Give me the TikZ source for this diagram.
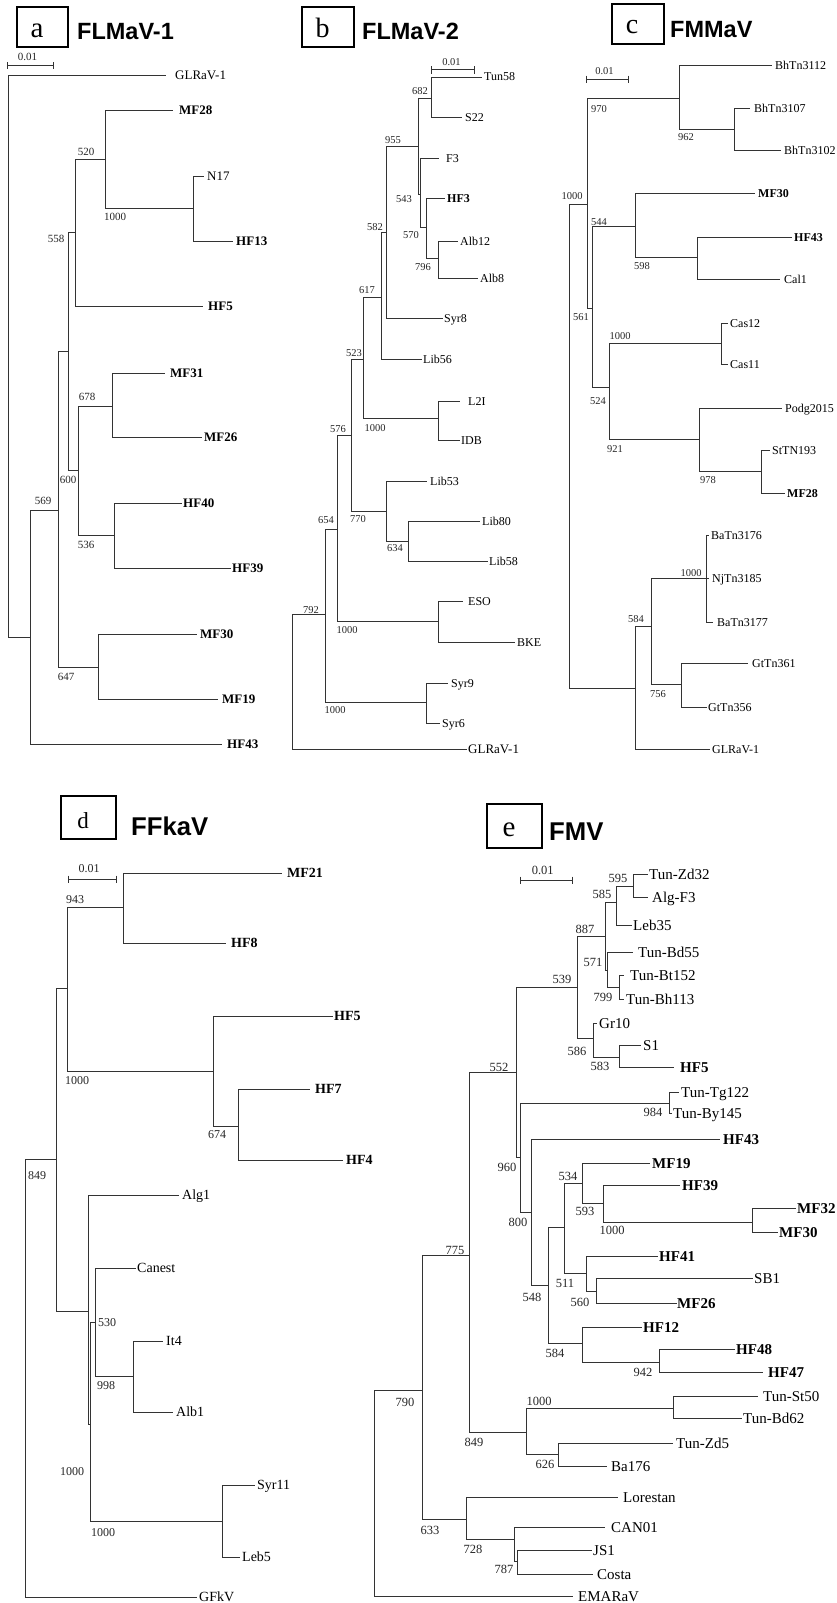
\documentclass[tikz,border=0pt]{standalone}
\usepackage{fontspec}
\setmainfont{Liberation Serif}
\newfontfamily\titlesans{Liberation Sans}
\newcommand\tbr[4]{\coordinate (#2) at (#3,#4); \draw[tree] (#1) |- (#2);}
\newcommand\tleaf[7]{\coordinate (#2) at (#3,#4); \draw[tree] (#1) |- (#2); \node[#5] (L#2) at (#6,#4) {#7};}
\newcommand\scbar[7]{\coordinate (#1l) at (#2,#4); \coordinate (#1r) at (#3,#4);
  \draw[tree] (#1l) -- (#1r);
  \draw[tree] ([yshift=3.5pt]#1l) -- ([yshift=-3.5pt]#1l);
  \draw[tree] ([yshift=3.5pt]#1r) -- ([yshift=-3.5pt]#1r);
  \node[#7] (#1t) at (#5,#6) {0.01};}
\newcommand\bsn[5]{\node[#1] (#2) at (#3,#4) {#5};}
\tikzset{
  tree/.style={line width=1pt, draw=black!80},
  tipst/.style={anchor=base west, inner sep=0pt, text=black},
  ta/.style={tipst, font=\fontsize{13}{15}\selectfont, yshift=-4.3pt},
  tab/.style={tipst, font=\fontsize{13}{15}\selectfont\bfseries, yshift=-4.3pt},
  tb/.style={tipst, font=\fontsize{12}{14}\selectfont, yshift=-4pt},
  tbb/.style={tipst, font=\fontsize{12}{14}\selectfont\bfseries, yshift=-4pt},
  tc/.style={tipst, font=\fontsize{12}{14}\selectfont, yshift=-4pt},
  tcb/.style={tipst, font=\fontsize{12}{14}\selectfont\bfseries, yshift=-4pt},
  td/.style={tipst, font=\fontsize{14}{16}\selectfont, yshift=-4.6pt},
  tdb/.style={tipst, font=\fontsize{14}{16}\selectfont\bfseries, yshift=-4.6pt},
  te/.style={tipst, font=\fontsize{15}{17}\selectfont, yshift=-5pt},
  teb/.style={tipst, font=\fontsize{15}{17}\selectfont\bfseries, yshift=-5pt},
  bsa/.style={inner sep=0pt, text=black!85, font=\fontsize{11}{13}\selectfont},
  bsb/.style={inner sep=0pt, text=black!85, font=\fontsize{10.5}{12}\selectfont},
  bsd/.style={inner sep=0pt, text=black!85, font=\fontsize{12}{14}\selectfont},
  bse/.style={inner sep=0pt, text=black!85, font=\fontsize{12.5}{14}\selectfont},
  pbox/.style={draw=black, line width=1.2pt, inner sep=0pt, minimum width=#1},
  pletter/.style={anchor=base, inner sep=0pt, font=\fontsize{#1}{#1}\selectfont},
  ptitle/.style={anchor=base west, inner sep=0pt, font=\titlesans\bfseries\fontsize{#1}{#1}\selectfont}
}
\begin{document}
\begin{tikzpicture}[x=1pt,y=-1pt]
\useasboundingbox (0,0) rectangle (836,1603);
\fill[white] (0,0) rectangle (836,1603);

% ---------- headers ----------
\node[pbox=51pt, minimum height=40pt] (boxa) at (42.5,27) {};
\node[pletter=29] (leta) at (37,37.3) {a};
\node[ptitle=23.5] (tita) at (77,40) {FLMaV-1};
\node[pbox=52pt, minimum height=40pt] (boxb) at (328,27) {};
\node[pletter=28] (letb) at (322.5,37.7) {b};
\node[ptitle=23.5] (titb) at (362,40) {FLMaV-2};
\node[pbox=52pt, minimum height=40pt] (boxc) at (638,24) {};
\node[pletter=28] (letc) at (632,33.3) {c};
\node[ptitle=23.5] (titc) at (670,37.3) {FMMaV};
\node[pbox=55pt, minimum height=43pt] (boxd) at (88.5,817.5) {};
\node[pletter=23] (letd) at (83,828.3) {d};
\node[ptitle=25.7] (titd) at (131,835.7) {FFkaV};
\node[pbox=55pt, minimum height=44pt] (boxe) at (514.5,826) {};
\node[pletter=29] (lete) at (509,836.7) {e};
\node[ptitle=25.7] (tite) at (549,840.7) {FMV};

% ---------- scale bars ----------
\scbar{sa}{7}{53}{66}{27.5}{57}{bsa}
\scbar{sb}{431}{474}{70}{451.5}{61.7}{bsb}
\scbar{sc}{586}{628}{79}{604.5}{71}{bsb}
\scbar{sd}{68}{116}{879}{89}{869}{bsd}
\scbar{se}{520}{572}{880}{542.7}{870}{bse}

% ---------- panel a ----------
\coordinate (a0) at (8,356);
\tleaf{a0}{aGLR}{166}{75}{ta}{175}{GLRaV-1}
\tbr{a0}{a569}{30}{637}
\tbr{a569}{a58}{58}{510}
\tbr{a58}{a68}{68}{351}
\tbr{a68}{a558}{75}{232}
\tbr{a558}{a520}{105}{159}
\tleaf{a520}{aMF28}{173}{110}{tab}{179}{MF28}
\tbr{a520}{a1000}{193}{208}
\tleaf{a1000}{aN17}{204}{176}{ta}{207}{N17}
\tleaf{a1000}{aHF13}{233}{241}{tab}{236}{HF13}
\tleaf{a558}{aHF5}{203}{306}{tab}{208}{HF5}
\tbr{a68}{a600}{78}{470}
\tbr{a600}{a678}{112}{406}
\tleaf{a678}{aMF31}{165}{373}{tab}{170}{MF31}
\tleaf{a678}{aMF26}{202}{437}{tab}{204}{MF26}
\tbr{a600}{a536}{114}{535}
\tleaf{a536}{aHF40}{182}{503}{tab}{183}{HF40}
\tleaf{a536}{aHF39}{231}{568}{tab}{232}{HF39}
\tbr{a58}{a647}{98}{667}
\tleaf{a647}{aMF30}{197}{634}{tab}{200}{MF30}
\tleaf{a647}{aMF19}{218}{699}{tab}{222}{MF19}
\tleaf{a569}{aHF43}{222}{744}{tab}{227}{HF43}
\bsn{bsa}{ba1}{86}{152}{520}
\bsn{bsa}{ba2}{115}{217}{1000}
\bsn{bsa}{ba3}{56}{239}{558}
\bsn{bsa}{ba4}{87}{397}{678}
\bsn{bsa}{ba5}{68}{480}{600}
\bsn{bsa}{ba6}{86}{545}{536}
\bsn{bsa}{ba7}{43}{501}{569}
\bsn{bsa}{ba8}{66}{677}{647}

% ---------- panel b ----------
\coordinate (b0) at (292,681);
\tbr{b0}{b325}{325}{614}
\tbr{b325}{b337}{337}{529}
\tbr{b337}{b351}{351}{435}
\tbr{b351}{b363}{363}{359}
\tbr{b363}{b381}{381}{297}
\tbr{b381}{b386}{386}{232}
\tbr{b386}{b418}{418}{146}
\tbr{b418}{b431}{431}{98}
\tleaf{b431}{bTun58}{482}{77}{tb}{484}{Tun58}
\tleaf{b431}{bS22}{462}{117}{tb}{465}{S22}
\tbr{b418}{b420}{420}{194}
\tleaf{b420}{bF3}{439}{158}{tb}{446}{F3}
\tbr{b420}{b426}{426}{227}
\tleaf{b426}{bHF3}{445}{198}{tbb}{447}{HF3}
\tbr{b426}{b438}{438}{258}
\tleaf{b438}{bAlb12}{458}{241}{tb}{460}{Alb12}
\tleaf{b438}{bAlb8}{478}{278}{tb}{480}{Alb8}
\tleaf{b386}{bSyr8}{443}{318}{tb}{444}{Syr8}
\tleaf{b381}{bLib56}{422}{359}{tb}{423}{Lib56}
\tbr{b363}{bL}{438}{418}
\tleaf{bL}{bL2I}{460}{401}{tb}{468}{L2I}
\tleaf{bL}{bIDB}{460}{440}{tb}{461}{IDB}
\tbr{b351}{b770}{386}{511}
\tleaf{b770}{bLib53}{427}{481}{tb}{430}{Lib53}
\tbr{b770}{b634}{408}{541}
\tleaf{b634}{bLib80}{480}{521}{tb}{482}{Lib80}
\tleaf{b634}{bLib58}{488}{561}{tb}{489}{Lib58}
\tbr{b337}{bES}{438}{621}
\tleaf{bES}{bESO}{463}{601}{tb}{468}{ESO}
\tleaf{bES}{bBKE}{515}{642}{tb}{517}{BKE}
\tbr{b325}{bSy}{426}{702}
\tleaf{bSy}{bSyr9}{448}{683}{tb}{451}{Syr9}
\tleaf{bSy}{bSyr6}{440}{723}{tb}{442}{Syr6}
\tleaf{b0}{bGLR}{467}{749}{ta}{468}{GLRaV-1}
\bsn{bsb}{bb1}{420}{91}{682}
\bsn{bsb}{bb2}{393}{140}{955}
\bsn{bsb}{bb3}{404}{199}{543}
\bsn{bsb}{bb4}{411}{235}{570}
\bsn{bsb}{bb5}{423}{267}{796}
\bsn{bsb}{bb6}{375}{227}{582}
\bsn{bsb}{bb7}{367}{290}{617}
\bsn{bsb}{bb8}{354}{353}{523}
\bsn{bsb}{bb9}{375}{428}{1000}
\bsn{bsb}{bb10}{338}{429}{576}
\bsn{bsb}{bb11}{358}{519}{770}
\bsn{bsb}{bb12}{395}{548}{634}
\bsn{bsb}{bb13}{326}{520}{654}
\bsn{bsb}{bb14}{347}{630}{1000}
\bsn{bsb}{bb15}{311}{610}{792}
\bsn{bsb}{bb16}{335}{710}{1000}

% ---------- panel c ----------
\coordinate (c0) at (569,446);
\tbr{c0}{c587}{587}{204}
\tbr{c587}{c679}{679}{98}
\tleaf{c679}{cBh12}{772}{66}{tc}{775}{BhTn3112}
\tbr{c679}{c734}{734}{129}
\tleaf{c734}{cBh07}{750}{108}{tc}{754}{BhTn3107}
\tleaf{c734}{cBh02}{781}{150}{tc}{784}{BhTn3102}
\tbr{c587}{c592}{592}{308}
\tbr{c592}{c635}{635}{226}
\tleaf{c635}{cMF30}{755}{193}{tcb}{758}{MF30}
\tbr{c635}{c697}{697}{257}
\tleaf{c697}{cHF43}{792}{237}{tcb}{794}{HF43}
\tleaf{c697}{cCal1}{780}{279}{tc}{784}{Cal1}
\tbr{c592}{c609}{609}{387}
\tbr{c609}{c721}{721}{343}
\tleaf{c721}{cCas12}{728}{323}{tc}{730}{Cas12}
\tleaf{c721}{cCas11}{728}{364}{tc}{730}{Cas11}
\tbr{c609}{c699}{699}{439}
\tleaf{c699}{cPodg}{782}{408}{tc}{785}{Podg2015}
\tbr{c699}{c761}{761}{471}
\tleaf{c761}{cStTN}{770}{450}{tc}{772}{StTN193}
\tleaf{c761}{cMF28}{785}{493}{tcb}{787}{MF28}
\tbr{c0}{c635b}{635}{688}
\tbr{c635b}{c651}{651}{626}
\tbr{c651}{c706}{706}{578}
\tleaf{c706}{cBa76}{709}{535}{tc}{711}{BaTn3176}
\tleaf{c706}{cNj}{709}{578}{tc}{712}{NjTn3185}
\tleaf{c706}{cBa77}{713}{622}{tc}{717}{BaTn3177}
\tbr{c651}{c681}{681}{684}
\tleaf{c681}{cGt61}{748}{663}{tc}{752}{GtTn361}
\tleaf{c681}{cGt56}{707}{707}{tc}{708}{GtTn356}
\tleaf{c635b}{cGLR}{710}{749}{tc}{712}{GLRaV-1}
\bsn{bsb}{bc1}{599}{109}{970}
\bsn{bsb}{bc2}{686}{137}{962}
\bsn{bsb}{bc3}{572}{196}{1000}
\bsn{bsb}{bc4}{599}{222}{544}
\bsn{bsb}{bc5}{642}{266}{598}
\bsn{bsb}{bc6}{581}{317}{561}
\bsn{bsb}{bc7}{620}{336}{1000}
\bsn{bsb}{bc8}{598}{401}{524}
\bsn{bsb}{bc9}{615}{449}{921}
\bsn{bsb}{bc10}{708}{480}{978}
\bsn{bsb}{bc11}{691}{573}{1000}
\bsn{bsb}{bc12}{636}{619}{584}
\bsn{bsb}{bc13}{658}{694}{756}

% ---------- panel d ----------
\coordinate (d0) at (25,1378);
\tbr{d0}{d56}{56}{1159}
\tbr{d56}{d67}{67}{988}
\tbr{d67}{d123}{123}{907}
\tleaf{d123}{dMF21}{282}{873}{tdb}{287}{MF21}
\tleaf{d123}{dHF8}{226}{943}{tdb}{231}{HF8}
\tbr{d67}{d213}{213}{1071}
\tleaf{d213}{dHF5}{333}{1016}{tdb}{334}{HF5}
\tbr{d213}{d238}{238}{1126}
\tleaf{d238}{dHF7}{310}{1089}{tdb}{315}{HF7}
\tleaf{d238}{dHF4}{343}{1160}{tdb}{346}{HF4}
\tbr{d56}{d88}{88}{1311}
\tleaf{d88}{dAlg1}{179}{1195}{td}{182}{Alg1}
\tbr{d88}{d90}{90}{1424}
\tbr{d90}{d95}{95}{1322}
\tleaf{d95}{dCanest}{136}{1268}{td}{137}{Canest}
\tbr{d95}{d133}{133}{1376}
\tleaf{d133}{dIt4}{163}{1341}{td}{166}{It4}
\tleaf{d133}{dAlb1}{173}{1412}{td}{176}{Alb1}
\tbr{d90}{d222}{222}{1521}
\tleaf{d222}{dSyr11}{255}{1485}{td}{257}{Syr11}
\tleaf{d222}{dLeb5}{240}{1557}{td}{242}{Leb5}
\tleaf{d0}{dGFkV}{197}{1597}{td}{199}{GFkV}
\bsn{bsd}{bd1}{75}{900}{943}
\bsn{bsd}{bd2}{77}{1081}{1000}
\bsn{bsd}{bd3}{217}{1135}{674}
\bsn{bsd}{bd4}{37}{1176}{849}
\bsn{bsd}{bd5}{107}{1323}{530}
\bsn{bsd}{bd6}{106}{1386}{998}
\bsn{bsd}{bd7}{72}{1472}{1000}
\bsn{bsd}{bd8}{103}{1533}{1000}

% ---------- panel e ----------
\coordinate (e0) at (374,1494);
\tbr{e0}{e422}{422}{1390}
\tbr{e422}{e469}{469}{1255}
\tbr{e469}{e516}{516}{1072}
\tbr{e516}{e577}{577}{987}
\tbr{e577}{e605}{605}{936}
\tbr{e605}{e616}{616}{902}
\tbr{e616}{e633}{633}{886}
\tleaf{e633}{eTZd32}{648}{874}{te}{649}{Tun-Zd32}
\tleaf{e633}{eAlgF3}{648}{897}{te}{652}{Alg-F3}
\tleaf{e616}{eLeb35}{632}{925}{te}{633}{Leb35}
\tbr{e605}{e607}{607}{970}
\tleaf{e607}{eTBd55}{633}{952}{te}{638}{Tun-Bd55}
\tbr{e607}{e619}{619}{987}
\tleaf{e619}{eTBt}{624}{975}{te}{630}{Tun-Bt152}
\tleaf{e619}{eTBh}{624}{999}{te}{626}{Tun-Bh113}
\tbr{e577}{e593}{593}{1038}
\tleaf{e593}{eGr10}{597}{1023}{te}{599}{Gr10}
\tbr{e593}{e619b}{619}{1057}
\tleaf{e619b}{eS1}{641}{1045}{te}{643}{S1}
\tleaf{e619b}{eHF5}{674}{1067}{teb}{680}{HF5}
\tbr{e516}{e520}{520}{1157}
\tbr{e520}{e669}{669}{1103}
\tleaf{e669}{eTTg}{679}{1092}{te}{681}{Tun-Tg122}
\tleaf{e669}{eTBy}{672}{1113}{te}{673}{Tun-By145}
\tbr{e520}{e531}{531}{1212}
\tleaf{e531}{eHF43}{720}{1139}{teb}{723}{HF43}
\tbr{e531}{e548}{548}{1285}
\tbr{e548}{e564}{564}{1227}
\tbr{e564}{e582}{582}{1183}
\tleaf{e582}{eMF19}{650}{1163}{teb}{652}{MF19}
\tbr{e582}{e603}{603}{1203}
\tleaf{e603}{eHF39}{680}{1185}{teb}{682}{HF39}
\tbr{e603}{e752}{752}{1222}
\tleaf{e752}{eMF32}{796}{1208}{teb}{797}{MF32}
\tleaf{e752}{eMF30}{778}{1232}{teb}{779}{MF30}
\tbr{e564}{e586}{586}{1273}
\tleaf{e586}{eHF41}{658}{1256}{teb}{659}{HF41}
\tbr{e586}{e596}{596}{1291}
\tleaf{e596}{eSB1}{753}{1278}{te}{754}{SB1}
\tleaf{e596}{eMF26}{677}{1303}{teb}{677}{MF26}
\tbr{e548}{e582b}{582}{1343}
\tleaf{e582b}{eHF12}{642}{1327}{teb}{643}{HF12}
\tbr{e582b}{e659}{659}{1362}
\tleaf{e659}{eHF48}{735}{1349}{teb}{736}{HF48}
\tleaf{e659}{eHF47}{763}{1372}{teb}{768}{HF47}
\tbr{e469}{e526}{526}{1432}
\tbr{e526}{e673}{673}{1408}
\tleaf{e673}{eTSt50}{758}{1396}{te}{763}{Tun-St50}
\tleaf{e673}{eTBd62}{742}{1418}{te}{743}{Tun-Bd62}
\tbr{e526}{e558}{558}{1454}
\tleaf{e558}{eTZd5}{673}{1443}{te}{676}{Tun-Zd5}
\tleaf{e558}{eBa176}{607}{1466}{te}{611}{Ba176}
\tbr{e422}{e466}{466}{1519}
\tleaf{e466}{eLor}{618}{1497}{te}{623}{Lorestan}
\tbr{e466}{e514}{514}{1539}
\tleaf{e514}{eCAN}{605}{1527}{te}{611}{CAN01}
\tbr{e514}{e517}{517}{1561}
\tleaf{e517}{eJS1}{592}{1550}{te}{593}{JS1}
\tleaf{e517}{eCosta}{593}{1574}{te}{597}{Costa}
\tleaf{e0}{eEMA}{573}{1596}{te}{578}{EMARaV}
\bsn{bse}{be1}{618}{878}{595}
\bsn{bse}{be2}{602}{894}{585}
\bsn{bse}{be3}{585}{929}{887}
\bsn{bse}{be4}{593}{962}{571}
\bsn{bse}{be5}{603}{997}{799}
\bsn{bse}{be6}{562}{979}{539}
\bsn{bse}{be7}{577}{1051}{586}
\bsn{bse}{be8}{600}{1066}{583}
\bsn{bse}{be9}{499}{1067}{552}
\bsn{bse}{be10}{653}{1112}{984}
\bsn{bse}{be11}{507}{1167}{960}
\bsn{bse}{be12}{568}{1176}{534}
\bsn{bse}{be13}{585}{1211}{593}
\bsn{bse}{be14}{518}{1222}{800}
\bsn{bse}{be15}{612}{1230}{1000}
\bsn{bse}{be16}{565}{1283}{511}
\bsn{bse}{be17}{532}{1297}{548}
\bsn{bse}{be18}{580}{1302}{560}
\bsn{bse}{be19}{555}{1353}{584}
\bsn{bse}{be20}{643}{1372}{942}
\bsn{bse}{be21}{455}{1250}{775}
\bsn{bse}{be22}{405}{1402}{790}
\bsn{bse}{be23}{539}{1401}{1000}
\bsn{bse}{be24}{474}{1442}{849}
\bsn{bse}{be25}{545}{1464}{626}
\bsn{bse}{be26}{430}{1530}{633}
\bsn{bse}{be27}{473}{1549}{728}
\bsn{bse}{be28}{504}{1569}{787}
\end{tikzpicture}
\end{document}
